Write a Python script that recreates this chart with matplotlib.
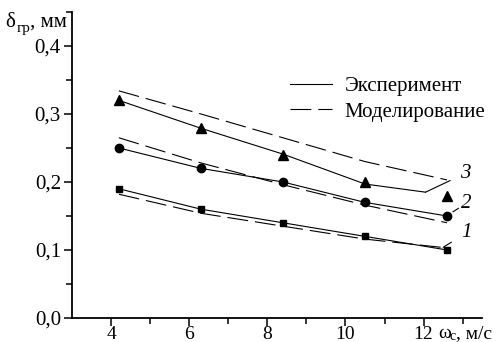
import matplotlib
matplotlib.use("Agg")
import matplotlib.pyplot as plt
from matplotlib.lines import Line2D

plt.rcParams["font.family"] = ["Liberation Serif", "DejaVu Serif"]
plt.rcParams["lines.scale_dashes"] = False

# скорость сушильного агента, м/с
SPEED = [4.2, 6.3, 8.4, 10.5, 12.6]

# эксперимент (точки)
EXP_1 = [0.19, 0.16, 0.14, 0.12, 0.10]
EXP_2 = [0.25, 0.22, 0.20, 0.17, 0.15]
EXP_3 = [0.32, 0.28, 0.24, 0.20, 0.18]

# сглаженная экспериментальная кривая 3 обрывается у выноски
FIT_3_SPEED = [4.2, 6.3, 8.4, 10.5, 12.05]
FIT_3 = [0.32, 0.279, 0.241, 0.197, 0.185]

# моделирование
MOD_1 = [0.182, 0.154, 0.135, 0.116, 0.103]
MOD_2 = [0.265, 0.228, 0.196, 0.166, 0.14]
MOD_3 = [0.334, 0.300, 0.265, 0.230, 0.203]

Y_TICKS = [0.0, 0.1, 0.2, 0.3, 0.4]
Y_LABELS = ["0,0", "0,1", "0,2", "0,3", "0,4"]
X_TICKS = [4, 6, 8, 10, 12]

DASH = (15, 5)
LW = 0.8
FS = 15

fig = plt.figure(figsize=(4.99, 3.42), dpi=100)
ax = fig.add_axes([0.1443, 0.0702, 0.822, 0.8948])

ax.plot(SPEED, EXP_1, color="black", lw=LW, marker="s", ms=5)
ax.plot(SPEED, EXP_2, color="black", lw=LW, marker="o", ms=6)
ax.plot(FIT_3_SPEED, FIT_3, color="black", lw=LW)
ax.plot(SPEED, EXP_3, color="black", lw=0, marker="^", ms=6.5)

ax.plot(SPEED, MOD_1, color="black", lw=LW, dashes=DASH)
ax.plot(SPEED, MOD_2, color="black", lw=LW, dashes=DASH)
ax.plot(SPEED, MOD_3, color="black", lw=LW, dashes=DASH)

# номера кривых с выносками
leaders = [
    ("3", (FIT_3_SPEED[-1], FIT_3[-1]), (13.08, 0.213)),
    ("2", (12.75, 0.156), (13.1, 0.169)),
    ("1", (12.5, 0.104), (13.1, 0.125)),
]
for label, xy, xytext in leaders:
    ax.annotate(label, xy=xy, xytext=xytext, fontsize=FS, style="italic",
                ha="center", va="center",
                arrowprops=dict(arrowstyle="-", lw=LW, color="black",
                                shrinkA=6, shrinkB=0))

ax.set_xlim(3, 13.5)
ax.set_ylim(0, 0.45)
ax.set_xticks(X_TICKS)
ax.set_xticks([5, 7, 9, 11, 13], minor=True)
ax.set_yticks(Y_TICKS)
ax.set_yticklabels(Y_LABELS)
ax.set_yticks([0.05, 0.15, 0.25, 0.35, 0.45], minor=True)

for side in ("top", "right"):
    ax.spines[side].set_visible(False)
for side in ("left", "bottom"):
    ax.spines[side].set_linewidth(1.3)
ax.tick_params(which="major", direction="out", length=6, width=1.1,
               labelsize=FS, pad=2)
ax.tick_params(axis="x", which="major", pad=0, labelsize=14)
ax.tick_params(which="minor", direction="out", length=4, width=1.1)

handles = [Line2D([], [], color="black", lw=LW),
           Line2D([], [], color="black", lw=LW, dashes=DASH)]
ax.legend(handles, ["Эксперимент", "Моделирование"], loc="upper left",
          bbox_to_anchor=(0.532, 0.79), frameon=False, fontsize=FS,
          handlelength=2.0, handletextpad=0.6, labelspacing=0.3,
          borderpad=0, borderaxespad=0)

# подписи осей
fig.text(5 / 499, 1 - 27 / 342, "δ", fontsize=FS, va="baseline")
fig.text(17 / 499, 1 - 32 / 342, "гр", fontsize=11, va="baseline")
fig.text(30 / 499, 1 - 27 / 342, ", мм", fontsize=FS, va="baseline")

fig.text(438 / 499, 1 - 338 / 342, "ω", fontsize=14, va="baseline")
fig.text(450 / 499, 1 - 340 / 342, "с", fontsize=10, va="baseline")
fig.text(456 / 499, 1 - 338 / 342, ", м/с", fontsize=14, va="baseline")

fig.savefig("out.png", dpi=100)
